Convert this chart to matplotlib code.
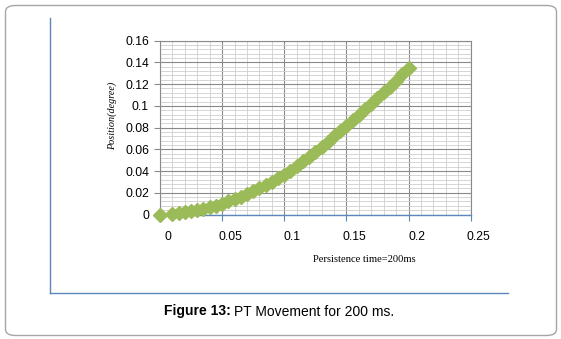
import matplotlib
matplotlib.use("Agg")
import matplotlib.pyplot as plt
from matplotlib.patches import FancyBboxPatch
from matplotlib.lines import Line2D
from matplotlib.ticker import MultipleLocator, FixedLocator
import matplotlib.transforms as mtransforms

# ---- data ----
time_s = [0.000, 0.010, 0.015, 0.020, 0.025, 0.030, 0.035, 0.040, 0.045, 0.050,
          0.055, 0.060, 0.065, 0.070, 0.075, 0.080, 0.085, 0.090, 0.095, 0.100,
          0.105, 0.110, 0.115, 0.120, 0.125, 0.130, 0.135, 0.140, 0.145, 0.150,
          0.155, 0.160, 0.165, 0.170, 0.175, 0.180, 0.185, 0.190, 0.195, 0.200]
position_deg = [0.0000, 0.0007, 0.0013, 0.0020, 0.0028, 0.0038, 0.0050, 0.0065, 0.0082, 0.0100,
                0.0120, 0.0140, 0.0162, 0.0186, 0.0212, 0.0240, 0.0270, 0.0302, 0.0335, 0.0368,
                0.0405, 0.0445, 0.0488, 0.0532, 0.0578, 0.0625, 0.0672, 0.0720, 0.0769, 0.0818,
                0.0868, 0.0918, 0.0969, 0.1020, 0.1072, 0.1124, 0.1177, 0.1230, 0.1290, 0.1350]
x_ticks = [0, 0.05, 0.1, 0.15, 0.2, 0.25]
x_tick_labels = ["0", "0.05", "0.1", "0.15", "0.2", "0.25"]
y_ticks = [0, 0.02, 0.04, 0.06, 0.08, 0.1, 0.12, 0.14, 0.16]
y_tick_labels = ["0", "0.02", "0.04", "0.06", "0.08", "0.1", "0.12", "0.14", "0.16"]
x_label = "Persistence time=200ms"
y_label = "Position(degree)"
caption_bold = "Figure 13:"
caption_rest = "PT Movement for 200 ms."

W, H = 561, 339
fig = plt.figure(figsize=(W / 100, H / 100), dpi=100)
fig.patch.set_facecolor("white")

def fx(px):
    return px / W

def fy(py):
    return 1 - py / H

# outer rounded frame
frame = FancyBboxPatch((fx(5.5), fy(335.5)), fx(556.5) - fx(5.5), fy(5.5) - fy(335.5),
                       boxstyle="round,pad=0,rounding_size=0.018",
                       transform=fig.transFigure, facecolor="none",
                       edgecolor="#a6a6a6", linewidth=1.0, zorder=-1)
fig.patches.append(frame)

# blue L-shaped frame
blue = "#5b87bb"
fig.add_artist(Line2D([fx(49.5), fx(49.5)], [fy(18), fy(292.5)], color=blue, lw=1.0,
                      transform=fig.transFigure))
fig.add_artist(Line2D([fx(49.5), fx(508)], [fy(292.5), fy(292.5)], color=blue, lw=1.0,
                      transform=fig.transFigure))

# plot area
left, right, top, bottom = 160.0, 470.7, 40.7, 214.5
ax = fig.add_axes([fx(left), fy(bottom), fx(right) - fx(left), fy(top) - fy(bottom)])
ax.set_zorder(2)
ax.set_xlim(0, 0.25)
ax.set_ylim(0, 0.16)

ax.xaxis.set_major_locator(FixedLocator(x_ticks))
ax.yaxis.set_major_locator(FixedLocator(y_ticks))
ax.xaxis.set_minor_locator(MultipleLocator(0.01))
ax.yaxis.set_minor_locator(MultipleLocator(0.004))
ax.set_xticklabels(x_tick_labels)
ax.set_yticklabels(y_tick_labels)

ax.grid(which="major", color="#8a8a8a", linewidth=0.8)
ax.grid(which="minor", color="#cfcfcf", linewidth=0.6)
ax.set_axisbelow(True)

for s in ["top", "right", "left"]:
    ax.spines[s].set_color("#8a8a8a")
    ax.spines[s].set_linewidth(0.8)
ax.spines["bottom"].set_color(blue)
ax.spines["bottom"].set_linewidth(1.0)

ax.tick_params(axis="both", which="minor", length=0)
ax.tick_params(axis="x", which="major", length=4, color=blue, pad=8, labelsize=8.7)
ax.tick_params(axis="y", which="major", length=4, color="#8a8a8a", pad=4, labelsize=8.7)
for lab in ax.get_xticklabels() + ax.get_yticklabels():
    lab.set_family("Liberation Sans")

offset = mtransforms.ScaledTranslation(8 / 100, 0, fig.dpi_scale_trans)
for lab in ax.get_xticklabels():
    lab.set_transform(lab.get_transform() + offset)

green = "#9bbb59"
ax.plot(time_s[1:], position_deg[1:], color=green, lw=5.5, solid_capstyle="butt",
        clip_on=False, zorder=3)
ax.plot(time_s, position_deg, linestyle="none", marker="D", markersize=7,
        markerfacecolor=green, markeredgecolor=green, clip_on=False, zorder=3)

# axis titles
fig.text(fx(112.5), fy(116), y_label, rotation=90, ha="center", va="center",
         family="Liberation Serif", style="italic", size=7.3)
fig.text(fx(364), fy(259), x_label, ha="center", va="center",
         family="Liberation Serif", size=7.6)

# caption: bold part + regular part, centred together
cap_y = fy(311.5)
gap = 3.5
t1 = fig.text(0, cap_y, caption_bold, ha="left", va="center",
              family="Liberation Sans", weight="bold", size=10)
t2 = fig.text(0, cap_y, caption_rest, ha="left", va="center",
              family="Liberation Sans", size=10)
fig.canvas.draw()
r = fig.canvas.get_renderer()
w1 = t1.get_window_extent(r).width
w2 = t2.get_window_extent(r).width
start = 279 - (w1 + gap + w2) / 2
t1.set_x(fx(start))
t2.set_x(fx(start + w1 + gap))

fig.savefig("out.png", dpi=100)
